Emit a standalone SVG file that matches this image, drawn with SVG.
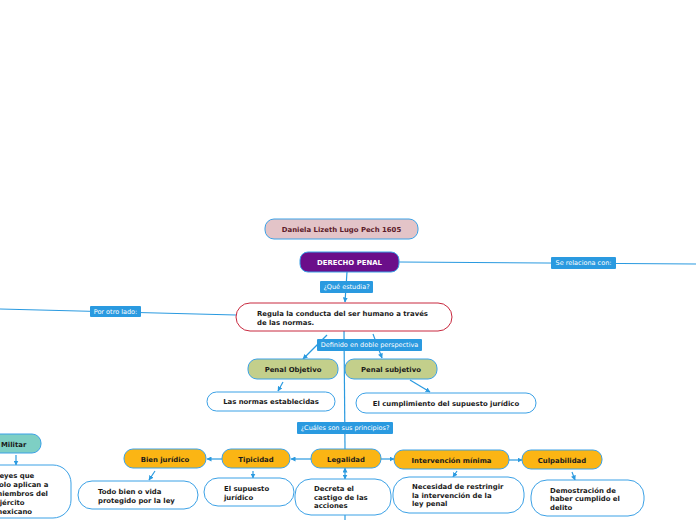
<svg xmlns="http://www.w3.org/2000/svg" width="696" height="520" viewBox="0 0 696 520">
<defs>
<marker id="ah" viewBox="0 0 10 10" refX="9" refY="5" markerWidth="5" markerHeight="5" orient="auto-start-reverse" markerUnits="userSpaceOnUse">
<path d="M0,0 L10,5 L0,10 Z" fill="#2a9ae0"/>
</marker>
</defs>
<style>
text{font-family:"DejaVu Sans",Verdana,sans-serif;font-weight:bold;font-size:6.9px;fill:#1a1a1a}
.c{text-anchor:middle}
.n{stroke:#3ba1e6;stroke-width:1}
.w{fill:#ffffff}
.o{fill:#fbb514}
.g{fill:#c3cf8b}
.ln{fill:none;stroke:#2a9ae0;stroke-width:1.2}
.lb{fill:#2a9ae0}
.lt{font-weight:normal;fill:#ffffff;font-size:6.5px}
</style>
<rect width="696" height="520" fill="#ffffff"/>
<g id="connectors">
<path class="ln" d="M399,262 L696,264"/>
<path class="ln" d="M347,272 L345,302" marker-end="url(#ah)"/>
<path class="ln" d="M0,309 L236,315"/>
<path class="ln" d="M327,335 L303,359" marker-end="url(#ah)"/>
<path class="ln" d="M373,334 L382,358" marker-end="url(#ah)"/>
<path class="ln" d="M344,331 L345,449"/>
<path class="ln" d="M283,382 L278,391" marker-end="url(#ah)"/>
<path class="ln" d="M410,380 L430,392" marker-end="url(#ah)"/>
<path class="ln" d="M311,459 L291,459" marker-end="url(#ah)"/>
<path class="ln" d="M222,459 L207,459" marker-end="url(#ah)"/>
<path class="ln" d="M381,459 L394,459" marker-end="url(#ah)"/>
<path class="ln" d="M509,460 L522,460" marker-end="url(#ah)"/>
<path class="ln" d="M345,468 L345,479" marker-start="url(#ah)" marker-end="url(#ah)"/>
<path class="ln" d="M345,515 L345,520"/>
<path class="ln" d="M155,471 L149,480" marker-end="url(#ah)"/>
<path class="ln" d="M253,471 L253,478" marker-end="url(#ah)"/>
<path class="ln" d="M457,471 L453,477" marker-end="url(#ah)"/>
<path class="ln" d="M572,472 L575,480" marker-end="url(#ah)"/>
<path class="ln" d="M16,455 L16,465" marker-end="url(#ah)"/>
<rect class="lb" x="551" y="257" width="65" height="12" rx="1"/>
<text class="lt c" x="583.5" y="265.3">Se relaciona con:</text>
<rect class="lb" x="320" y="281" width="53" height="12" rx="1"/>
<text class="lt c" x="346.5" y="289.3">¿Qué estudia?</text>
<rect class="lb" x="90" y="306" width="51" height="11" rx="1"/>
<text class="lt c" x="115.5" y="313.8">Por otro lado:</text>
<rect class="lb" x="317" y="339" width="105" height="12" rx="1"/>
<text class="lt c" x="369.5" y="347.3">Definido en doble perspectiva</text>
<rect class="lb" x="297" y="422" width="96" height="12" rx="1"/>
<text class="lt c" x="345" y="430.3">¿Cuáles son sus principios?</text>
</g>
<g id="autor">
<rect class="n" x="265" y="219" width="153" height="20" rx="9" fill="#e3c4c8"/>
<text class="c" x="341.5" y="231.5" style="fill:#5b1a2a">Daniela Lizeth Lugo Pech 1605</text>
</g>
<g id="derecho-penal">
<rect class="n" x="300" y="252" width="99" height="20" rx="8" fill="#6b0e8a"/>
<text class="c" x="349.5" y="264.5" style="fill:#ffffff">DERECHO PENAL</text>
</g>
<g id="regula">
<rect x="236" y="303" width="216" height="28" rx="14" fill="#ffffff" stroke="#c8283e" stroke-width="1"/>
<text x="257" y="315.5">Regula la conducta del ser humano a través</text>
<text x="257" y="324.5">de las normas.</text>
</g>
<g id="penal-objetivo">
<rect class="n g" x="248" y="359" width="90" height="20" rx="9"/>
<text class="c" x="293" y="371.5">Penal Objetivo</text>
</g>
<g id="penal-subjetivo">
<rect class="n g" x="345" y="359" width="92" height="20" rx="9"/>
<text class="c" x="391" y="371.5">Penal subjetivo</text>
</g>
<g id="normas">
<rect class="n w" x="207" y="392" width="128" height="19" rx="9.5"/>
<text class="c" x="271" y="404">Las normas establecidas</text>
</g>
<g id="cumplimiento">
<rect class="n w" x="356" y="393" width="180" height="20" rx="10"/>
<text class="c" x="446" y="405.5">El cumplimiento del supuesto jurídico</text>
</g>
<g id="legalidad">
<rect class="n o" x="311" y="449" width="70" height="19" rx="9"/>
<text class="c" x="346" y="461.5">Legalidad</text>
</g>
<g id="tipicidad">
<rect class="n o" x="222" y="449" width="68" height="19" rx="9"/>
<text class="c" x="256" y="461.5">Tipicidad</text>
</g>
<g id="bien-juridico">
<rect class="n o" x="124" y="449" width="82" height="19" rx="9"/>
<text class="c" x="165" y="461.5">Bien jurídico</text>
</g>
<g id="intervencion">
<rect class="n o" x="394" y="450" width="115" height="19" rx="9"/>
<text class="c" x="451.5" y="462.5">Intervención mínima</text>
</g>
<g id="culpabilidad">
<rect class="n o" x="522" y="450" width="80" height="19" rx="9"/>
<text class="c" x="562" y="462.5">Culpabilidad</text>
</g>
<g id="militar">
<rect class="n" x="-30" y="434" width="71" height="19" rx="9" fill="#7ecfc4"/>
<text x="1" y="446.5">Militar</text>
</g>
<g id="leyes">
<rect class="n w" x="-40" y="465" width="111" height="53" rx="18"/>
<text x="-5" y="478">Leyes que</text>
<text x="-5" y="487">solo aplican a</text>
<text x="-5" y="496">miembros del</text>
<text x="-5" y="505">ejército</text>
<text x="-5" y="514">mexicano</text>
</g>
<g id="todo-bien">
<rect class="n w" x="78" y="481" width="120" height="28" rx="14"/>
<text x="98" y="493.5">Todo bien o vida</text>
<text x="98" y="502.5">protegido por la ley</text>
</g>
<g id="supuesto">
<rect class="n w" x="204" y="478" width="90" height="28" rx="14"/>
<text x="224" y="490.5">El supuesto</text>
<text x="224" y="499.5">jurídico</text>
</g>
<g id="decreta">
<rect class="n w" x="295" y="479" width="96" height="36" rx="16"/>
<text x="314" y="491">Decreta el</text>
<text x="314" y="499.5">castigo de las</text>
<text x="314" y="508">acciones</text>
</g>
<g id="necesidad">
<rect class="n w" x="393" y="477" width="131" height="36" rx="16"/>
<text x="412" y="489">Necesidad de restringir</text>
<text x="412" y="497.5">la intervención de la</text>
<text x="412" y="506">ley penal</text>
</g>
<g id="demostracion">
<rect class="n w" x="531" y="480" width="113" height="36" rx="16"/>
<text x="550" y="492.5">Demostración de</text>
<text x="550" y="501">haber cumplido el</text>
<text x="550" y="509.5">delito</text>
</g>
</svg>
